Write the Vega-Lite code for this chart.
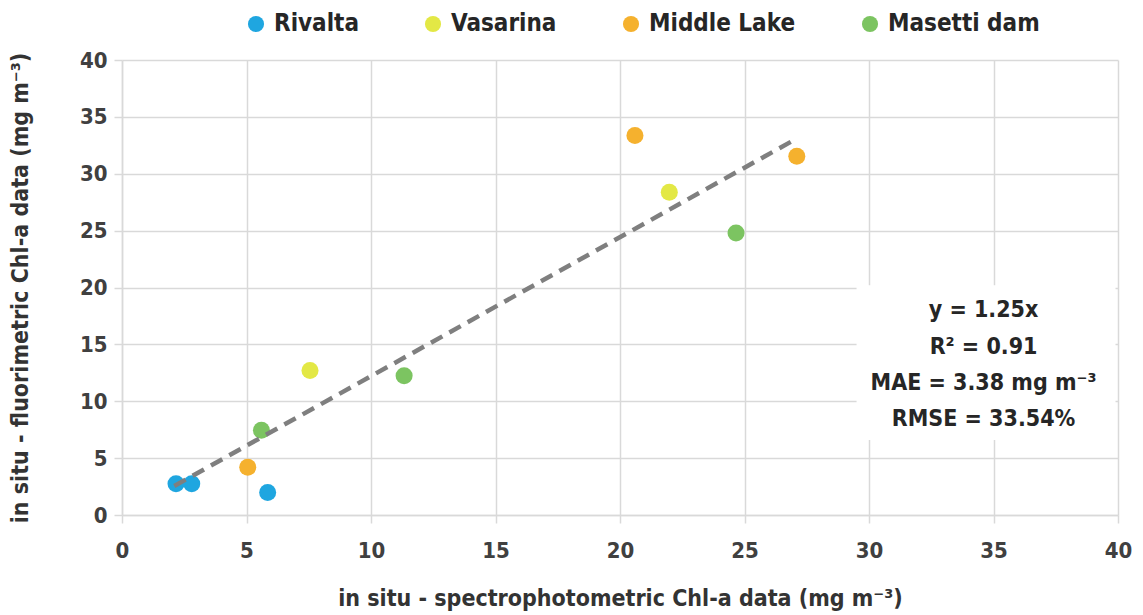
{
  "$schema": "https://vega.github.io/schema/vega-lite/v6.json",
  "width": 996,
  "height": 455,
  "autosize": {"type": "none"},
  "padding": {"left": 122, "top": 60, "right": 25, "bottom": 100},
  "config": {
    "font": "Liberation Sans Narrow, DejaVu Sans Condensed, sans-serif",
    "view": {"stroke": null},
    "axis": {
      "gridColor": "#d9d9d9",
      "gridWidth": 1.5,
      "domainColor": "#d9d9d9",
      "domainWidth": 1.5,
      "tickColor": "#d9d9d9",
      "tickWidth": 1.5,
      "tickSize": 8,
      "labelFlush": false,
      "labelFont": "Liberation Sans Narrow, DejaVu Sans Condensed, sans-serif",
      "labelFontSize": 22,
      "labelFontWeight": "bold",
      "labelColor": "#404040",
      "titleFont": "Liberation Sans Narrow, DejaVu Sans Condensed, sans-serif",
      "titleFontSize": 23,
      "titleFontWeight": "bold",
      "titleColor": "#333333"
    }
  },
  "datasets": {
    "pts": [
      {"x": 2.17, "y": 2.75, "site": "Rivalta"},
      {"x": 2.8, "y": 2.75, "site": "Rivalta"},
      {"x": 5.85, "y": 1.98, "site": "Rivalta"},
      {"x": 7.55, "y": 12.7, "site": "Vasarina"},
      {"x": 21.98, "y": 28.37, "site": "Vasarina"},
      {"x": 5.05, "y": 4.2, "site": "Middle Lake"},
      {"x": 20.6, "y": 33.36, "site": "Middle Lake"},
      {"x": 27.1, "y": 31.54, "site": "Middle Lake"},
      {"x": 5.6, "y": 7.45, "site": "Masetti dam"},
      {"x": 11.33, "y": 12.24, "site": "Masetti dam"},
      {"x": 24.66, "y": 24.8, "site": "Masetti dam"}
    ],
    "trend": [
      {"x": 2.1, "y": 2.55},
      {"x": 27.1, "y": 33.1}
    ],
    "box": [
      {"x1": 29.5, "x2": 39.9, "y1": 6.6, "y2": 20.2}
    ],
    "notes": [
      {"x": 34.6, "y": 18.0, "t": "y = 1.25x"},
      {"x": 34.6, "y": 14.8, "t": "R² = 0.91"},
      {"x": 34.6, "y": 11.6, "t": "MAE = 3.38 mg m⁻³"},
      {"x": 34.6, "y": 8.4, "t": "RMSE = 33.54%"}
    ]
  },
  "layer": [
    {
      "data": {"name": "pts"},
      "mark": {"type": "circle", "size": 290, "opacity": 1},
      "encoding": {
        "x": {"field": "x", "type": "quantitative", "scale": {"domain": [0, 40]},
          "axis": {"values": [0,5,10,15,20,25,30,35,40], "grid": true, "labelPadding": 17, "titlePadding": 26,
            "title": "in situ - spectrophotometric Chl-a data (mg m⁻³)"}},
        "y": {"field": "y", "type": "quantitative", "scale": {"domain": [0, 40]},
          "axis": {"values": [0,5,10,15,20,25,30,35,40], "grid": true, "labelPadding": 7, "titlePadding": 47,
            "title": "in situ - fluorimetric Chl-a data (mg m⁻³)"}},
        "color": {
          "field": "site", "type": "nominal",
          "scale": {"domain": ["Rivalta", "Vasarina", "Middle Lake", "Masetti dam"],
                    "range": ["#1fa6e0", "#e3e845", "#f5b12e", "#7cc461"]},
          "legend": {
            "title": null, "orient": "none", "direction": "horizontal",
            "legendX": 122, "legendY": -48,
            "symbolType": "circle", "symbolSize": 260, "symbolStrokeWidth": 0,
            "labelFontSize": 24, "labelFontWeight": "bold", "labelColor": "#262626",
            "labelFont": "Liberation Sans Narrow, DejaVu Sans Condensed, sans-serif",
            "labelOffset": 6, "columnPadding": 62
          }
        }
      }
    },
    {
      "data": {"name": "trend"},
      "mark": {"type": "line", "color": "#7f7f7f", "strokeWidth": 4.5, "strokeDash": [13, 8]},
      "encoding": {
        "x": {"field": "x", "type": "quantitative"},
        "y": {"field": "y", "type": "quantitative"}
      }
    },
    {
      "data": {"name": "box"},
      "mark": {"type": "rect", "color": "white"},
      "encoding": {
        "x": {"field": "x1", "type": "quantitative"},
        "x2": {"field": "x2"},
        "y": {"field": "y1", "type": "quantitative"},
        "y2": {"field": "y2"}
      }
    },
    {
      "data": {"name": "notes"},
      "mark": {"type": "text", "fontSize": 23, "fontWeight": "bold", "color": "#262626", "align": "center", "baseline": "middle",
        "font": "Liberation Sans Narrow, DejaVu Sans Condensed, sans-serif"},
      "encoding": {
        "x": {"field": "x", "type": "quantitative"},
        "y": {"field": "y", "type": "quantitative"},
        "text": {"field": "t"}
      }
    }
  ]
}
